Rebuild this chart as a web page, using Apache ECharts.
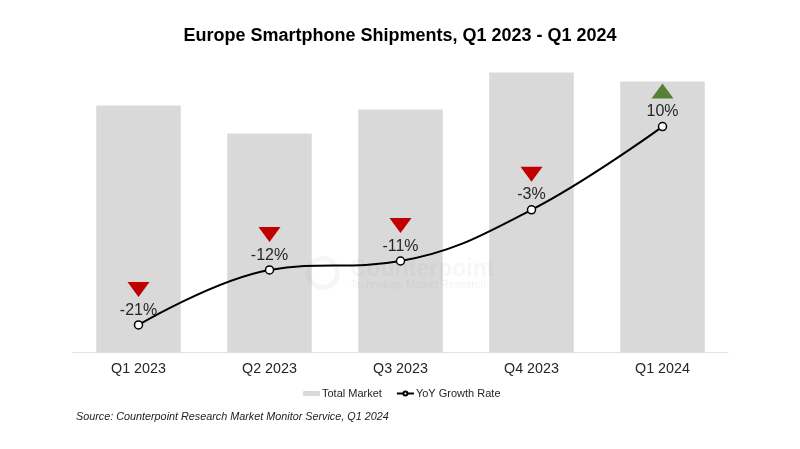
<!DOCTYPE html>
<html>
<head>
<meta charset="utf-8">
<title>Europe Smartphone Shipments</title>
<script src="https://cdn.jsdelivr.net/npm/echarts@6/dist/echarts.min.js"></script>
<style>
  html, body { margin: 0; padding: 0; background: #fff; }
  #main { width: 800px; height: 449px; }
</style>
</head>
<body>
<div id="main"></div>
<script>
var quarters = ['Q1 2023', 'Q2 2023', 'Q3 2023', 'Q4 2023', 'Q1 2024'];
// no axis in the picture, bar heights are only relative
var totalMarket = [49.4, 43.8, 48.6, 56.0, 54.2];
var yoyGrowth = [-21, -12.4, -11, -3, 10];

var font = '"Liberation Sans", Arial, sans-serif';
var chart = echarts.init(document.getElementById('main'));

var option = {
  animation: false,
  textStyle: { fontFamily: font },
  title: [
    {
      text: 'Europe Smartphone Shipments, Q1 2023 - Q1 2024',
      left: 'center',
      top: 22,
      textStyle: { fontFamily: font, fontSize: 18, fontWeight: 'bold', color: '#000' }
    },
    {
      text: 'Source: Counterpoint Research Market Monitor Service, Q1 2024',
      left: 71,
      top: 406,
      textStyle: { fontFamily: font, fontSize: 10.8, fontWeight: 'normal', fontStyle: 'italic', color: '#222' }
    }
  ],
  legend: {
    data: ['Total Market', 'YoY Growth Rate'],
    left: 298,
    top: 383,
    itemWidth: 17,
    itemHeight: 5,
    itemGap: 14,
    textStyle: { fontFamily: font, fontSize: 11, color: '#262626', padding: [0, 0, 0, -3] }
  },
  grid: { left: 73, right: 72, top: 50, bottom: 96.5 },
  xAxis: {
    type: 'category',
    data: quarters,
    axisTick: { show: false },
    axisLine: { lineStyle: { color: '#e3e3e3', width: 1 } },
    axisLabel: { fontFamily: font, fontSize: 14.3, color: '#262626', margin: 10 }
  },
  yAxis: [
    { type: 'value', min: 0, max: 60.5, show: false, splitLine: { show: false } },
    { type: 'value', min: -25.3, max: 21.97, show: false, splitLine: { show: false } }
  ],
  graphic: [
    {
      type: 'circle',
      silent: true,
      shape: { cx: 323, cy: 273, r: 14.5 },
      style: { fill: 'none', stroke: '#888', lineWidth: 5, opacity: 0.08 },
      z: 1
    },
    {
      type: 'text',
      silent: true,
      style: { x: 350, y: 258, text: 'Counterpoint', fontFamily: font, fontSize: 23, fontWeight: 'bold', fill: '#888', opacity: 0.08 },
      z: 1
    },
    {
      type: 'text',
      silent: true,
      style: { x: 350, y: 280, text: 'Technology Market Research', fontFamily: font, fontSize: 10.5, fill: '#888', opacity: 0.1 },
      z: 1
    }
  ],
  series: [
    {
      name: 'Total Market',
      type: 'bar',
      data: totalMarket,
      barWidth: '64.5%',
      itemStyle: { color: '#d9d9d9' },
      z: 0
    },
    {
      name: 'YoY Growth Rate',
      type: 'line',
      yAxisIndex: 1,
      data: yoyGrowth,
      smooth: 0.4,
      symbol: 'circle',
      symbolSize: 8,
      showAllSymbol: true,
      lineStyle: { color: '#000', width: 2 },
      itemStyle: { color: '#fff', borderColor: '#000', borderWidth: 1.5 },
      label: {
        show: true,
        position: 'top',
        distance: 2,
        fontFamily: font,
        fontSize: 16,
        color: '#262626',
        formatter: function (p) { return Math.round(p.value) + '%'; }
      },
      z: 5
    },
    {
      // up / down arrows over each point
      name: 'Direction',
      type: 'scatter',
      yAxisIndex: 1,
      symbol: 'triangle',
      symbolSize: [22, 15],
      symbolOffset: [0, -35.5],
      silent: true,
      data: yoyGrowth.map(function (v) {
        return {
          value: v,
          symbolRotate: v < 0 ? 180 : 0,
          itemStyle: { color: v < 0 ? '#c00000' : '#548235', opacity: 1 }
        };
      }),
      z: 6
    }
  ]
};

chart.setOption(option);
</script>
</body>
</html>
